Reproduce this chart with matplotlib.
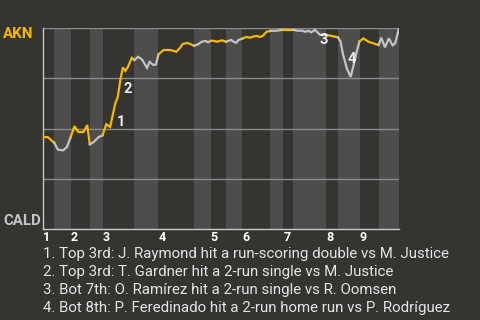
import matplotlib
matplotlib.use('Agg')
import matplotlib.pyplot as plt
import numpy as np

plt.rcParams['font.family'] = ['Roboto', 'DejaVu Sans']

BG = '#363430'
BAND = '#4e4d4b'
AKN_COLOR = '#f8b700'
CALD_COLOR = '#c4c4c4'

# pitch number of each half-inning start (top 1 ... bottom 9), plus end of game
half_starts = [0, 9, 22, 37, 47, 72, 91, 119, 132, 144, 157, 179, 189, 197, 223, 232, 249, 264, 280]
inning_labels = ['1', '2', '3', '4', '5', '6', '7', '8', '9']

# AKN win probability (%) by pitch number
pitch = [0, 4, 9, 12, 16, 19, 22, 25, 28, 32, 35, 37, 40, 44, 47, 50, 53, 55, 57, 59,
         61, 63, 65, 67, 70, 72, 75, 78, 82, 84, 87, 89, 91, 95, 100, 103, 105, 108, 110, 114,
         119, 122, 125, 128, 130, 132, 134, 137, 139, 141, 144, 148, 150, 152, 154, 157, 160, 163, 165, 168,
         171, 173, 176, 179, 184, 189, 197, 200, 204, 206, 209, 211, 214, 218, 223, 227, 232, 234, 236, 239,
         242, 244, 247, 249, 252, 256, 260, 262, 264, 266, 269, 272, 275, 277, 280]
win_prob = [45.8, 45.8, 43.0, 39.5, 39.2, 40.8, 45.8, 51.3, 48.3, 48.3, 51.8, 42.2, 43.3, 45.8, 46.7, 52.2, 50.8, 56.7, 62.5, 65.8,
            74.2, 80.5, 78.8, 80.8, 85.3, 84.2, 85.8, 84.5, 80.3, 83.3, 81.7, 82.0, 87.0, 89.2, 89.2, 88.7, 88.3, 90.3, 92.2, 92.7,
            91.3, 92.0, 93.3, 93.7, 93.0, 93.7, 93.8, 93.3, 93.7, 94.0, 93.3, 94.2, 93.3, 92.8, 94.2, 94.9, 95.7, 95.3, 95.8, 96.2,
            95.7, 96.3, 98.3, 98.7, 98.8, 99.3, 99.3, 98.8, 98.8, 98.3, 98.7, 98.0, 99.2, 96.7, 96.7, 96.2, 95.5, 93.5, 87.0, 80.0,
            75.8, 80.8, 89.0, 93.5, 95.0, 93.3, 92.5, 92.0, 91.7, 95.3, 90.5, 95.0, 91.5, 92.5, 100.0]

# big plays: number, label position (pitch, win prob), description
event_nums = ['1', '2', '3', '4']
event_pos = [(58, 51.2), (63.5, 68), (217.5, 92.2), (239.5, 82.5)]
event_text = ['Top 3rd: J. Raymond hit a run-scoring double vs M. Justice',
              'Top 3rd: T. Gardner hit a 2-run single vs M. Justice',
              'Bot 7th: O. Ramírez hit a 2-run single vs R. Oomsen',
              'Bot 8th: P. Feredinado hit a 2-run home run vs P. Rodríguez']

fig = plt.figure(figsize=(4.8, 3.2), dpi=100, facecolor=BG)
ax = fig.add_axes([42.7 / 480, 1 - 229 / 320, (399 - 42.7) / 480, (229 - 28.3) / 320])
ax.set_facecolor(BG)
ax.set_xlim(half_starts[0], half_starts[-1])
ax.set_ylim(0, 100)

pitch = np.array(pitch)
win_prob = np.array(win_prob)
for i in range(len(half_starts) - 1):
    s, e = half_starts[i], half_starts[i + 1]
    if i % 2 == 1:
        ax.axvspan(s, e, color=BAND, lw=0, zorder=0)
    m = (pitch >= s) & (pitch <= e)
    ax.plot(pitch[m], win_prob[m], color=AKN_COLOR if i % 2 == 0 else CALD_COLOR,
            lw=1.6, zorder=3, solid_joinstyle='miter')

for y in [25, 50, 75, 100]:
    ax.axhline(y, color='#8a8a8a', lw=1, zorder=1)

for sp in ['top', 'right']:
    ax.spines[sp].set_visible(False)
for sp in ['left', 'bottom']:
    ax.spines[sp].set_color('#c8c8c8')
    ax.spines[sp].set_linewidth(1)

ax.set_yticks([])
ax.set_xticks(half_starts[0:-1:2])
ax.set_xticklabels(inning_labels, ha='left', fontsize=9, fontweight='bold', color='white')
ax.tick_params(axis='x', length=0, pad=1.5)

for num, (px, wp) in zip(event_nums, event_pos):
    ax.text(px, wp, num, fontsize=10.5, fontweight='bold', color='white',
            alpha=0.9, ha='left', va='baseline', zorder=4)

fig.text(3 / 480, 1 - 38.5 / 320, 'AKN', fontsize=10.8, fontweight='bold',
         color=AKN_COLOR, ha='left', va='baseline')
fig.text(3 / 480, 1 - 225 / 320, 'CALD', fontsize=10.8, fontweight='bold',
         color=CALD_COLOR, ha='left', va='baseline')

for i, (num, txt) in enumerate(zip(event_nums, event_text)):
    fig.text(43 / 480, 1 - (257.7 + 18 * i) / 320, f'{num}. {txt}', fontsize=10.8,
             color='#e4e4e4', ha='left', va='baseline')

fig.savefig('out.png', dpi=100, facecolor=BG)
